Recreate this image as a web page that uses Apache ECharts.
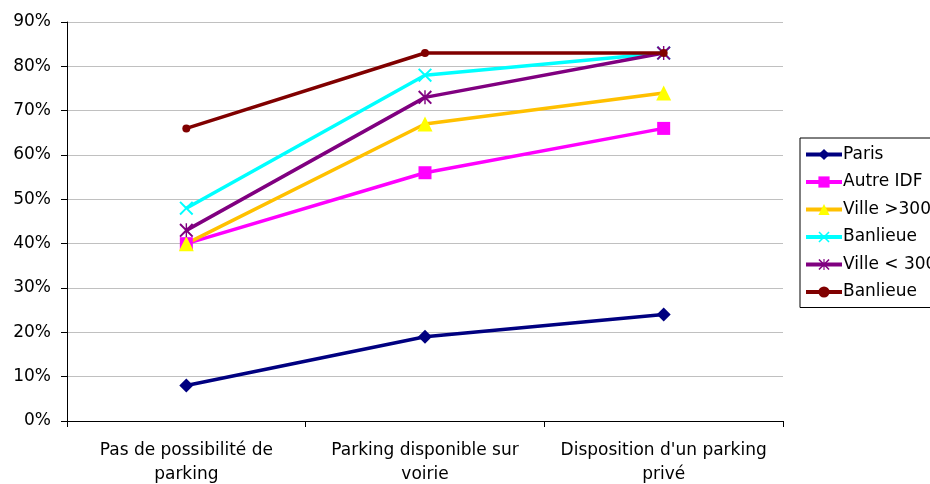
<!DOCTYPE html>
<html>
<head>
<meta charset="utf-8">
<script src="https://cdn.jsdelivr.net/npm/echarts@6/dist/echarts.min.js"></script>
<style>
	html, body { margin: 0; padding: 0; background: #fff; }
	#chart { width: 930px; height: 484px; }
</style>
</head>
<body>
<div id="chart"></div>
<script>
var categories = ['Pas de possibilité de\nparking', 'Parking disponible sur\nvoirie', 'Disposition d\'un parking\nprivé'];
var yTicks = [0, 0.1, 0.2, 0.3, 0.4, 0.5, 0.6, 0.7, 0.8, 0.9];

var paris = [0.08, 0.19, 0.24];
var autreIdf = [0.40, 0.56, 0.66];
var villePlus = [0.40, 0.67, 0.74];
var banlieue1 = [0.48, 0.78, 0.83];
var villeMoins = [0.43, 0.73, 0.83];
var banlieue2 = [0.66, 0.83, 0.83];

var seriesNames = ['Paris', 'Autre IDF', 'Ville >300 000', 'Banlieue', 'Ville < 300 000', 'Banlieue '];

// cross and asterisk markers as thin filled shapes
var crossPath = 'path://M0,1 L1,0 L5,4 L9,0 L10,1 L6,5 L10,9 L9,10 L5,6 L1,10 L0,9 L4,5 Z';
var starPath = 'path://M0,1 L1,0 L5,4 L9,0 L10,1 L6,5 L10,9 L9,10 L5,6 L1,10 L0,9 L4,5 Z M4.5,0 L5.5,0 L5.5,10 L4.5,10 Z';

function makeLine(name, data, lineColor, markColor, symbol, size) {
	return {
		name : name,
		type : 'line',
		data : data,
		symbol : symbol,
		symbolSize : size,
		showAllSymbol : true,
		lineStyle : {
			color : lineColor,
			width : 3.5
		},
		itemStyle : {
			color : markColor
		},
		emphasis : { disabled : true }
	};
}

var chart = echarts.init(document.getElementById('chart'));
var option = {
	animation : false,
	textStyle : { fontFamily : 'DejaVu Sans' },
	grid : {
		left : 67,
		right : 147,
		top : 22,
		bottom : 63,
		outerBoundsMode : 'none'
	},
	legend : {
		orient : 'vertical',
		left : 800,
		top : 138,
		data : seriesNames,
		itemWidth : 36,
		itemHeight : 14,
		itemGap : 10.5,
		padding : [8, 6, 7, 4],
		borderColor : '#000',
		borderWidth : 1,
		lineStyle : { width : 4 },
		textStyle : {
			fontSize : 17,
			color : '#000',
			padding : [0, 0, 0, -4]
		}
	},
	xAxis : {
		type : 'category',
		data : categories,
		boundaryGap : true,
		axisLine : { lineStyle : { color : '#000', width : 1 } },
		axisTick : { show : true, length : 6, lineStyle : { color : '#000' } },
		axisLabel : {
			color : '#000',
			fontSize : 17,
			lineHeight : 24,
			margin : 18,
			interval : 0
		},
		splitLine : { show : false }
	},
	yAxis : {
		type : 'value',
		min : 0,
		max : 0.9,
		interval : 0.1,
		axisLine : { show : true, lineStyle : { color : '#000', width : 1 } },
		axisTick : { show : true, length : 6, lineStyle : { color : '#000' } },
		axisLabel : {
			color : '#000',
			fontSize : 17,
			margin : 16,
			formatter : function(v) {
				return Math.round(v * 100) + '%';
			}
		},
		splitLine : { lineStyle : { color : '#C0C0C0', width : 1 } }
	},
	series : [
		makeLine(seriesNames[0], paris, '#000080', '#000080', 'diamond', 14),
		makeLine(seriesNames[1], autreIdf, '#FF00FF', '#FF00FF', 'rect', 13),
		makeLine(seriesNames[2], villePlus, '#FFC000', '#FFFF00', 'triangle', 15),
		makeLine(seriesNames[3], banlieue1, '#00FFFF', '#00FFFF', crossPath, 14),
		makeLine(seriesNames[4], villeMoins, '#800080', '#800080', starPath, 14),
		makeLine(seriesNames[5], banlieue2, '#800000', '#800000', 'circle', 8)
	]
};
chart.setOption(option);
</script>
</body>
</html>
